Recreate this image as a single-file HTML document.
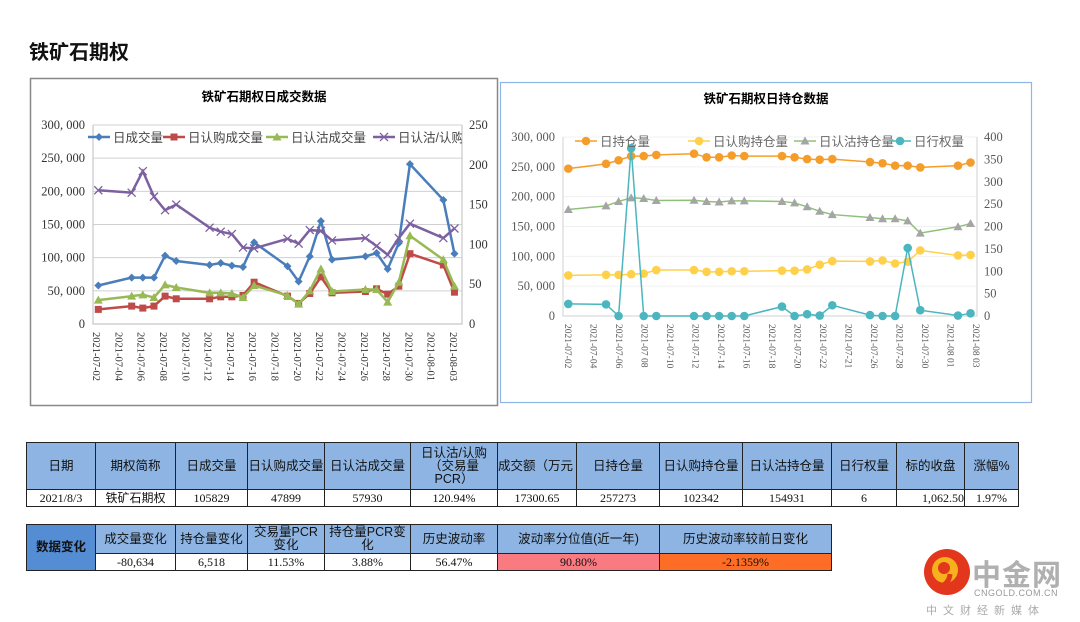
<!DOCTYPE html>
<html><head><meta charset="utf-8">
<style>
body{margin:0;width:1080px;height:622px;background:#fff;position:relative;overflow:hidden;font-family:"Liberation Serif","Noto Serif CJK SC",serif;}
.abs{position:absolute;}
table{border-collapse:collapse;position:absolute;table-layout:fixed;}
td{border:1.5px solid #222;text-align:center;padding:0;font-size:12px;color:#111;font-family:"Liberation Serif","Noto Sans CJK SC",serif;line-height:13px;}
td.h{background:#8db4e2;font-family:"Liberation Sans","Noto Sans CJK SC",sans-serif;font-size:12.5px;}
</style></head><body>
<div class="abs" style="left:29px;top:36px;font:bold 20px 'Liberation Sans','Noto Sans CJK SC',sans-serif;color:#111;">铁矿石期权</div>

<svg class="abs" style="left:0;top:0" width="1080" height="430" id="charts">
<defs><clipPath id="c1"><rect x="30" y="78" width="432" height="330"/></clipPath></defs>
<rect x="30.5" y="78.5" width="467" height="327" fill="#fff" stroke="#888" stroke-width="1.5"/>
<rect x="500.5" y="82.5" width="531" height="320" fill="#fff" stroke="#8fb4e8" stroke-width="1.2"/>
<text x="264" y="101" text-anchor="middle" font-size="12.5" font-weight="bold" font-family="Liberation Sans,Noto Sans CJK SC,sans-serif">铁矿石期权日成交数据</text>
<text x="766" y="103" text-anchor="middle" font-size="12.5" font-weight="bold" font-family="Liberation Sans,Noto Sans CJK SC,sans-serif">铁矿石期权日持仓数据</text>
<g id="g1"></g><g id="g2"></g>
</svg>

<table style="left:26px;top:442px;width:992px;">
<colgroup><col style="width:69px"><col style="width:80px"><col style="width:72px"><col style="width:77px"><col style="width:86px"><col style="width:87px"><col style="width:79px"><col style="width:83px"><col style="width:83px"><col style="width:89px"><col style="width:65px"><col style="width:68px"><col style="width:54px"></colgroup>
<tr style="height:47px"><td class="h">日期</td><td class="h">期权简称</td><td class="h">日成交量</td><td class="h">日认购成交量</td><td class="h">日认沽成交量</td><td class="h">日认沽/认购<br>（交易量<br>PCR）</td><td class="h" style="white-space:nowrap;overflow:hidden;text-align:left">成交额（万元</td><td class="h">日持仓量</td><td class="h">日认购持仓量</td><td class="h">日认沽持仓量</td><td class="h">日行权量</td><td class="h">标的收盘</td><td class="h">涨幅%</td></tr>
<tr style="height:17px"><td>2021/8/3</td><td>铁矿石期权</td><td>105829</td><td>47899</td><td>57930</td><td>120.94%</td><td>17300.65</td><td>257273</td><td>102342</td><td>154931</td><td>6</td><td style="text-align:right">1,062.50</td><td>1.97%</td></tr>
</table>

<table style="left:26px;top:524px;width:805px;">
<colgroup><col style="width:69px"><col style="width:80px"><col style="width:72px"><col style="width:77px"><col style="width:86px"><col style="width:87px"><col style="width:162px"><col style="width:172px"></colgroup>
<tr style="height:29px"><td class="h" rowspan="2" style="background:#548dd4;font-weight:bold">数据变化</td><td class="h">成交量变化</td><td class="h">持仓量变化</td><td class="h">交易量PCR<br>变化</td><td class="h">持仓量PCR变<br>化</td><td class="h">历史波动率</td><td class="h">波动率分位值(近一年)</td><td class="h">历史波动率较前日变化</td></tr>
<tr style="height:17px"><td>-80,634</td><td>6,518</td><td>11.53%</td><td>3.88%</td><td>56.47%</td><td style="background:#f97a80">90.80%</td><td style="background:#fd6d25">-2.1359%</td></tr>
</table>

<div class="abs" style="left:923px;top:548px;width:60px;height:60px;">
<svg width="48" height="48" viewBox="0 0 48 48"><circle cx="24" cy="24" r="23" fill="#e2371d"/><circle cx="22" cy="22" r="13" fill="#f6b21c"/><circle cx="21" cy="20" r="6" fill="#e2371d"/><path d="M27 26 Q26 38 12 40" stroke="#e2371d" stroke-width="5" fill="none"/></svg>
</div>
<div class="abs" style="left:972px;top:552px;font:bold 29px 'Noto Sans CJK SC',sans-serif;color:#b0b0b0;letter-spacing:1px">中金网</div>
<div class="abs" style="left:974px;top:588px;font:9px 'Liberation Sans',sans-serif;color:#999;letter-spacing:0.5px">CNGOLD.COM.CN</div>
<div class="abs" style="left:926px;top:602px;font:11px 'Noto Sans CJK SC',sans-serif;color:#aaa;letter-spacing:6px">中文财经新媒体</div>

<script>
const volDates=["07-02","07-05","07-06","07-07","07-08","07-09","07-12","07-13","07-14","07-15","07-16","07-19","07-20","07-21","07-22","07-23","07-26","07-27","07-28","07-29","07-30","08-02","08-03"];
const volTotal=[58000,70000,70000,70000,103000,95000,89000,92000,88000,86000,123000,87000,64000,102000,155000,97000,102000,107000,83000,122000,241000,187000,106000];
const volCall=[22000,27000,24000,27000,42000,38000,38000,41000,41000,43000,63000,42000,31000,46000,71000,47000,49000,53000,45000,57000,106000,89000,48000];
const volPut=[36000,42000,44000,40000,59000,55000,47000,47000,46000,40000,58000,43000,30000,50000,83000,49000,52000,52000,33000,63000,133000,97000,57000];
const volPCR=[168,165,192,160,143,150,121,116,113,96,95,107,101,118,117,105,108,98,87,108,126,108,120];
const volXLabels=["2021-07-02","2021-07-04","2021-07-06","2021-07-08","2021-07-10","2021-07-12","2021-07-14","2021-07-16","2021-07-18","2021-07-20","2021-07-22","2021-07-24","2021-07-26","2021-07-28","2021-07-30","2021-08-01","2021-08-03"];
const volLeftTicks=["0","50, 000","100, 000","150, 000","200, 000","250, 000","300, 000"];
const volRightTicks=["0","50","100","150","200","250"];

const oiDates=volDates.slice();
const oiTotal=[247000,255000,261000,268000,268000,270000,272000,266000,266000,269000,268000,268000,266000,263000,262000,263000,258000,256000,252000,252000,249000,252000,257273];
const oiCall=[68000,69000,69000,70000,71000,77000,77000,74000,74000,75000,75000,76000,76000,78000,86000,92000,91500,93000,88000,91000,110000,101500,102342];
const oiPut=[178500,184500,192000,198000,197000,193500,194000,192000,191000,193000,193000,192000,189500,183000,175500,170000,165000,163000,163000,159500,139000,149500,154931];
const oiExercise=[27,26,0,375,0,0,0,0,0,0,0,21,0,4,1,24,2,0,0,152,13,1,6];
const oiXLabels=["2021-07-02","2021-07-04","2021-07-06","2021-07 08","2021-07-10","2021-07-12","2021-07-14","2021-07-16","2021-07-18","2021-07-20","2021-07-22","2021-07-21","2021-07-26","2021-07-28","2021-07-30","2021-08 01","2021-08 03"];
const oiLeftTicks=["0","50, 000","100, 000","150, 000","200, 000","250, 000","300, 000"];
const oiRightTicks=["0","50","100","150","200","250","300","350","400"];

const NS="http://www.w3.org/2000/svg";
function mk(p,tag,attrs){const e=document.createElementNS(NS,tag);for(const k in attrs)e.setAttribute(k,attrs[k]);p.appendChild(e);return e;}
function dayIdx(s){const [m,d]=s.split("-").map(Number);return (m===7?d:31+d)-2;}
function marker(g,type,x,y,c){
  let e;
  if(type==="diamond")e=mk(g,"path",{d:`M${x} ${y-4}L${x+4} ${y}L${x} ${y+4}L${x-4} ${y}Z`,fill:c});
  else if(type==="square")e=mk(g,"rect",{x:x-3.5,y:y-3.5,width:7,height:7,fill:c});
  else if(type==="tri")e=mk(g,"path",{d:`M${x} ${y-4.5}L${x+4.5} ${y+3.5}L${x-4.5} ${y+3.5}Z`,fill:c});
  else if(type==="x")e=mk(g,"path",{d:`M${x-4} ${y-4}L${x+4} ${y+4}M${x-4} ${y+4}L${x+4} ${y-4}`,stroke:c,"stroke-width":1.3});
  else e=mk(g,"circle",{cx:x,cy:y,r:4.3,fill:c});
  return e;
}
function chart(cfg){
  const g=document.getElementById(cfg.id);
  const X=d=>cfg.x0+dayIdx(d)*cfg.dx;
  const YL=v=>cfg.yb-v/cfg.lmax*(cfg.yb-cfg.yt);
  const YR=v=>cfg.yb-v/cfg.rmax*(cfg.yb-cfg.yt);
  cfg.lt.forEach((t,i)=>{const y=cfg.yb-i*(cfg.yb-cfg.yt)/(cfg.lt.length-1);
    if(i>0){const l=mk(g,"line",{x1:cfg.pl,x2:cfg.pr,y1:y,y2:y,stroke:cfg.grid,"stroke-width":1});}
    const tx=mk(g,"text",{x:cfg.pl-8,y:y+4,"text-anchor":"end","font-size":12.5,fill:cfg.tc});tx.textContent=t;
    });
  cfg.rt.forEach((t,i)=>{const y=cfg.yb-i*(cfg.yb-cfg.yt)/(cfg.rt.length-1);
    const tx=mk(g,"text",{x:cfg.pr+7,y:y+4,"font-size":12.5,fill:cfg.tc});tx.textContent=t;
    });
  mk(g,"path",{d:`M${cfg.pl} ${cfg.yt}V${cfg.yb}H${cfg.pr}V${cfg.yt}`,stroke:cfg.axc,fill:"none","stroke-width":1.2});
  cfg.xl.forEach((t,i)=>{const x=cfg.lx0+i*(cfg.lx1-cfg.lx0)/(cfg.xl.length-1);
    const tx=mk(g,"text",{x:0,y:0,transform:`translate(${x-4},${cfg.yb+8}) rotate(90)`,"font-size":cfg.xfs,fill:cfg.tc});tx.textContent=t;
    });
  cfg.series.forEach(s=>{
    const Y=s.right?YR:YL;
    const pts=s.data.map((v,i)=>[X(cfg.dates[i]),Y(v)]);
    const pl=mk(g,"polyline",{points:pts.map(p=>p.join(",")).join(" "),fill:"none",stroke:s.lc||s.c,"stroke-width":s.w});
    
    pts.forEach(p=>{const m=marker(g,s.m,p[0],p[1],s.c);});
  });
  const lg=mk(g,"g",cfg.clip?{"clip-path":"url(#"+cfg.clip+")"}:{});
  cfg.legend.forEach(l=>{const s=cfg.series[l.i];
    mk(lg,"line",{x1:l.x,x2:l.x+22,y1:cfg.ly,y2:cfg.ly,stroke:s.lc||s.c,"stroke-width":s.w});
    marker(lg,s.m,l.x+11,cfg.ly,s.c);
    const tx=mk(lg,"text",{x:l.x+25,y:cfg.ly+5,"font-size":12.5,fill:cfg.lc,"font-family":"Liberation Sans,Noto Sans CJK SC,sans-serif"});tx.textContent=l.t;
    });
}
chart({id:"g1",dates:volDates,x0:98.3,dx:11.13,yt:125,yb:324,pl:93,pr:462,lmax:300000,rmax:250,
  lt:volLeftTicks,rt:volRightTicks,xl:volXLabels,lx0:97,lx1:454,xfs:10.5,grid:"#d0d0d0",axc:"#c8c8c8",tc:"#333",lc:"#444",clip:"c1",
  series:[{name:"daily-volume",data:volTotal,c:"#4a7ebb",m:"diamond",w:2.5},
          {name:"call-volume",data:volCall,c:"#be4b48",m:"square",w:2.5},
          {name:"put-volume",data:volPut,c:"#98b954",m:"tri",w:2.5},
          {name:"put-call-ratio",data:volPCR,c:"#7d60a0",m:"x",w:2.5,right:true}],
  ly:137,legend:[{i:0,x:88,t:"日成交量"},{i:1,x:163,t:"日认购成交量"},{i:2,x:266,t:"日认沽成交量"},{i:3,x:373,t:"日认沽/认购"}]});
chart({id:"g2",dates:oiDates,x0:568.3,dx:12.57,yt:137,yb:316,pl:563,pr:977,lmax:300000,rmax:400,
  lt:oiLeftTicks,rt:oiRightTicks,xl:oiXLabels,lx0:569,lx1:977,xfs:9.5,grid:"#f0f0f0",axc:"#d9d9d9",tc:"#595959",lc:"#666",
  series:[{name:"open-interest",data:oiTotal,c:"#f59d2a",m:"circle",w:1.5},
          {name:"call-open-interest",data:oiCall,c:"#ffd04a",m:"circle",w:1.5},
          {name:"put-open-interest",data:oiPut,c:"#a5a5a5",lc:"#8fc078",m:"tri",w:1.5},
          {name:"exercise-volume",data:oiExercise,c:"#4bb6c0",m:"circle",w:1.5,right:true}],
  ly:141,legend:[{i:0,x:575,t:"日持仓量"},{i:1,x:688,t:"日认购持仓量"},{i:2,x:794,t:"日认沽持仓量"},{i:3,x:889,t:"日行权量"}]});
</script>
</body></html>
